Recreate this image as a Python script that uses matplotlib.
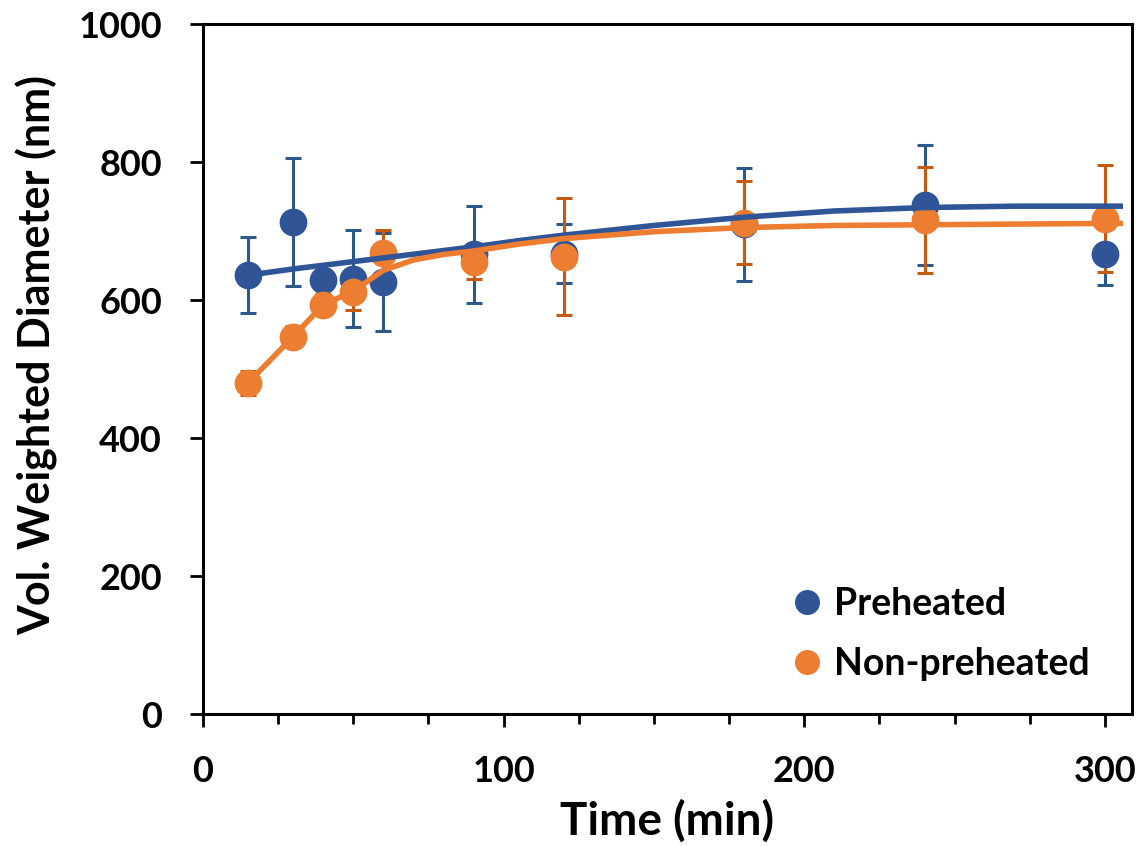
import matplotlib
matplotlib.use("Agg")
import matplotlib.pyplot as plt
from matplotlib.ticker import MultipleLocator

plt.rcParams['font.family'] = ['Lato', 'DejaVu Sans']
plt.rcParams['font.weight'] = 'bold'

# Measured data
time_min = [15, 30, 40, 50, 60, 90, 120, 180, 240, 300]
pre_mean = [636, 713, 629, 631, 626, 666, 667, 710, 738, 667]
pre_err = [55, 93, 15, 70, 71, 70, 43, 82, 87, 45]
non_mean = [480, 547, 593, 612, 668, 655, 663, 712, 716, 718]
non_err = [17, 15, 15, 27, 33, 25, 85, 60, 77, 78]

# Trend lines
pre_trend_x = [15, 30, 45, 60, 75, 90, 105, 120, 150, 180, 210, 240, 270, 300, 306]
pre_trend_y = [636, 645, 653, 661, 669, 677, 686, 694, 708, 720, 729, 734, 736, 736, 736]
non_trend_x = [15, 30, 40, 50, 60, 70, 80, 90, 105, 120, 150, 180, 210, 240, 270, 300, 306]
non_trend_y = [480, 547, 593, 613, 643, 658, 666, 671, 681, 689, 699, 705, 708, 709, 710, 711, 711]

blue = '#2F5597'
blue_err = '#2B5A8A'
orange = '#ED7D31'
orange_err = '#C55A11'

fig = plt.figure(figsize=(11.4, 8.46), dpi=100)
ax = fig.add_axes([203/1140, 1-714/846, (1132-203)/1140, (714-24)/846])

ax.errorbar(time_min, pre_mean, yerr=pre_err, fmt='none', ecolor=blue_err,
            elinewidth=2.2, capsize=6, capthick=2.2, zorder=2)
ax.errorbar(time_min, non_mean, yerr=non_err, fmt='none', ecolor=orange_err,
            elinewidth=2.2, capsize=6, capthick=2.2, zorder=2)
ax.plot(time_min, pre_mean, 'o', color=blue, markersize=20, markeredgewidth=0,
        label='Preheated', zorder=3)
ax.plot(time_min, non_mean, 'o', color=orange, markersize=20, markeredgewidth=0,
        label='Non-preheated', zorder=4)
ax.plot(pre_trend_x, pre_trend_y, '-', color=blue, lw=4, zorder=5,
        solid_capstyle='butt')
ax.plot(non_trend_x, non_trend_y, '-', color=orange, lw=4, zorder=6,
        solid_capstyle='butt')

ax.set_xlim(0, 309)
ax.set_ylim(0, 1000)
ax.xaxis.set_major_locator(MultipleLocator(100))
ax.xaxis.set_minor_locator(MultipleLocator(25))
ax.yaxis.set_major_locator(MultipleLocator(200))

for s in ax.spines.values():
    s.set_linewidth(2.2)
ax.tick_params(axis='x', which='major', direction='out', length=9.5, width=2, pad=20,
               labelsize=26)
ax.tick_params(axis='x', which='minor', direction='out', length=7.5, width=2)
ax.tick_params(axis='y', which='major', direction='out', length=9.5, width=2, pad=20,
               labelsize=26)
for lab in ax.get_xticklabels() + ax.get_yticklabels():
    lab.set_fontweight('bold')

ax.set_xlabel('Time (min)', fontsize=33, fontweight='bold')
ax.set_ylabel('Vol. Weighted Diameter (nm)', fontsize=31, fontweight='bold')
ax.xaxis.set_label_coords(0.499, -0.124)
ax.yaxis.set_label_coords(-0.156, 0.52)

leg = ax.legend(loc='center left', bbox_to_anchor=(0.590, 0.116), frameon=False,
                fontsize=27, markerscale=0.9, handletextpad=0.1, labelspacing=0.69,
                handlelength=1.2)
for t in leg.get_texts():
    t.set_fontweight('bold')

fig.savefig('out.png', dpi=100)
